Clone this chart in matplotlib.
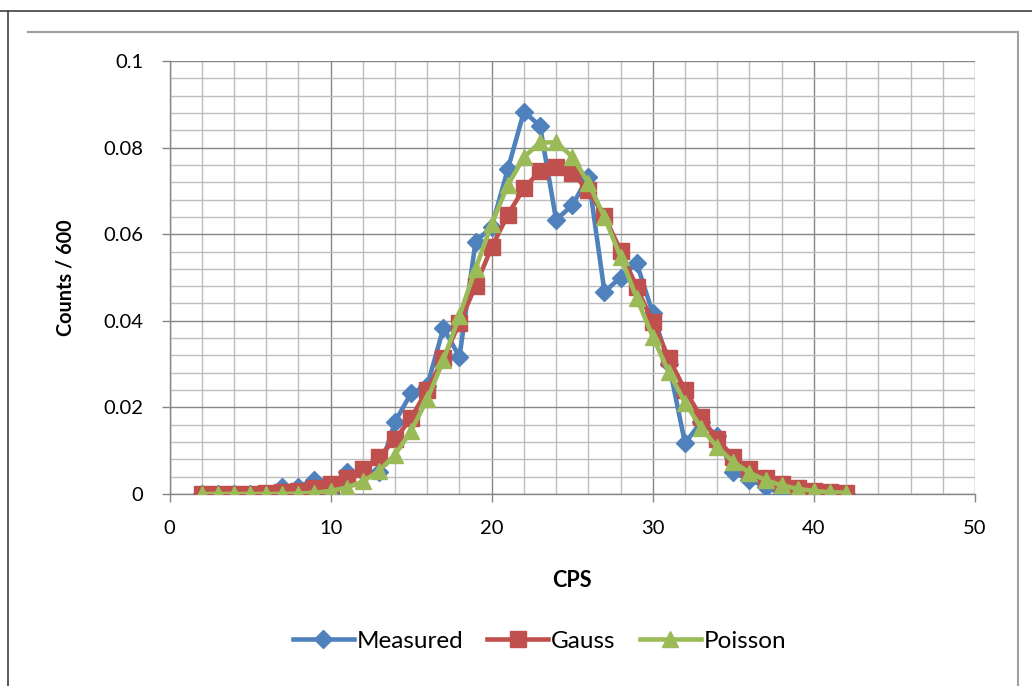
import matplotlib
matplotlib.use("Agg")
import matplotlib.pyplot as plt
from matplotlib.lines import Line2D
from matplotlib.ticker import MultipleLocator

plt.rcParams['font.family'] = ['Lato', 'DejaVu Sans']

cps = list(range(2, 43))

measured = [0.0, 0.0, 0.0, 0.0, 0.0, 0.0017, 0.0017, 0.0033, 0.0, 0.005,
            0.005, 0.005, 0.0167, 0.0233, 0.025, 0.0383, 0.0317, 0.0583, 0.0617, 0.075,
            0.0883, 0.085, 0.0633, 0.0667, 0.0733, 0.0467, 0.05, 0.0533, 0.0417, 0.03,
            0.0117, 0.0167, 0.0133, 0.005, 0.0033, 0.0017, 0.0, 0.0, 0.0, 0.0, 0.0]

gauss = [0.0, 0.0, 0.0001, 0.0001, 0.0002, 0.0004, 0.0008, 0.0013, 0.0023, 0.0037,
         0.0057, 0.0086, 0.0126, 0.0176, 0.0240, 0.0313, 0.0395, 0.0481, 0.0570, 0.0645,
         0.0706, 0.0746, 0.0756, 0.0741, 0.0701, 0.0641, 0.0562, 0.0477, 0.0397, 0.0313,
         0.0240, 0.0177, 0.0126, 0.0086, 0.0057, 0.0037, 0.0023, 0.0013, 0.0008, 0.0004, 0.0002]

poisson = [0.0, 0.0, 0.0, 0.0, 0.0, 0.0, 0.0001, 0.0003, 0.0007, 0.0015,
           0.0029, 0.0053, 0.0091, 0.0146, 0.0219, 0.0309, 0.0412, 0.0520, 0.0624, 0.0713,
           0.0778, 0.0812, 0.0812, 0.0779, 0.0719, 0.0639, 0.0548, 0.0453, 0.0363, 0.0281,
           0.0211, 0.0153, 0.0108, 0.0074, 0.0049, 0.0032, 0.0020, 0.0012, 0.0007, 0.0004, 0.0003]

x_ticks = [0, 10, 20, 30, 40, 50]
y_ticks = [0, 0.02, 0.04, 0.06, 0.08, 0.1]
y_tick_labels = ['0', '0.02', '0.04', '0.06', '0.08', '0.1']

fig = plt.figure(figsize=(10.32, 6.86), dpi=100)
ax = fig.add_axes([169.5 / 1032, 1 - 494 / 686, (975 - 169.5) / 1032, (494 - 61) / 686])

blue = '#4F81BD'
red = '#C0504D'
green = '#9BBB59'

ax.plot(cps, measured, color=blue, lw=3.3, marker='D', markersize=9, label='Measured', zorder=3)
ax.plot(cps, gauss, color=red, lw=3.3, marker='s', markersize=11.5, label='Gauss', zorder=4)
ax.plot(cps, poisson, color=green, lw=3.3, marker='^', markersize=12, label='Poisson', zorder=5)

ax.set_xlim(0, 50)
ax.set_ylim(0, 0.1)
ax.set_xticks(x_ticks)
ax.set_yticks(y_ticks)
ax.set_yticklabels(y_tick_labels)
ax.xaxis.set_minor_locator(MultipleLocator(2))
ax.yaxis.set_minor_locator(MultipleLocator(0.004))

ax.grid(which='minor', color='#BEBEBE', lw=1.0, zorder=0)
ax.grid(which='major', color='#868686', lw=1.0, zorder=1)
ax.set_axisbelow(True)

for s in ['top', 'right']:
    ax.spines[s].set_visible(False)
for s in ['left', 'bottom']:
    ax.spines[s].set_color('#868686')
    ax.spines[s].set_linewidth(1.0)

ax.tick_params(which='major', direction='out', length=6, width=1.0, color='#868686',
               labelsize=14.5, labelcolor='black')
ax.tick_params(axis='x', which='major', pad=13)
ax.tick_params(axis='y', which='major', pad=13)
ax.tick_params(which='minor', length=0)

ax.set_xlabel('CPS', fontsize=15.5, fontweight='bold')
ax.set_ylabel('Counts / 600', fontsize=14.3, fontweight='bold')
ax.xaxis.set_label_coords(0.5, -0.176)
ax.yaxis.set_label_coords(-(169.5 - 75) / 805.5, 0.5)

fig.legend(loc='center', bbox_to_anchor=(539.5 / 1032, 1 - 641 / 686), ncol=3,
           frameon=False, fontsize=17.5, handlelength=2.5, handletextpad=0.12,
           columnspacing=1.0)

# chart frame lines
fig.add_artist(Line2D([0, 1], [1 - 11 / 686, 1 - 11 / 686], color='#404040', lw=1.2))
fig.add_artist(Line2D([8 / 1032, 8 / 1032], [0, 1 - 11 / 686], color='#404040', lw=1.2))
fig.add_artist(Line2D([28 / 1032, 1018 / 1032], [1 - 31.5 / 686, 1 - 31.5 / 686], color='#A0A0A0', lw=1.5))
fig.add_artist(Line2D([1018 / 1032, 1018 / 1032], [0, 1 - 31.5 / 686], color='#A0A0A0', lw=1.5))

fig.savefig('out.png', dpi=100)
